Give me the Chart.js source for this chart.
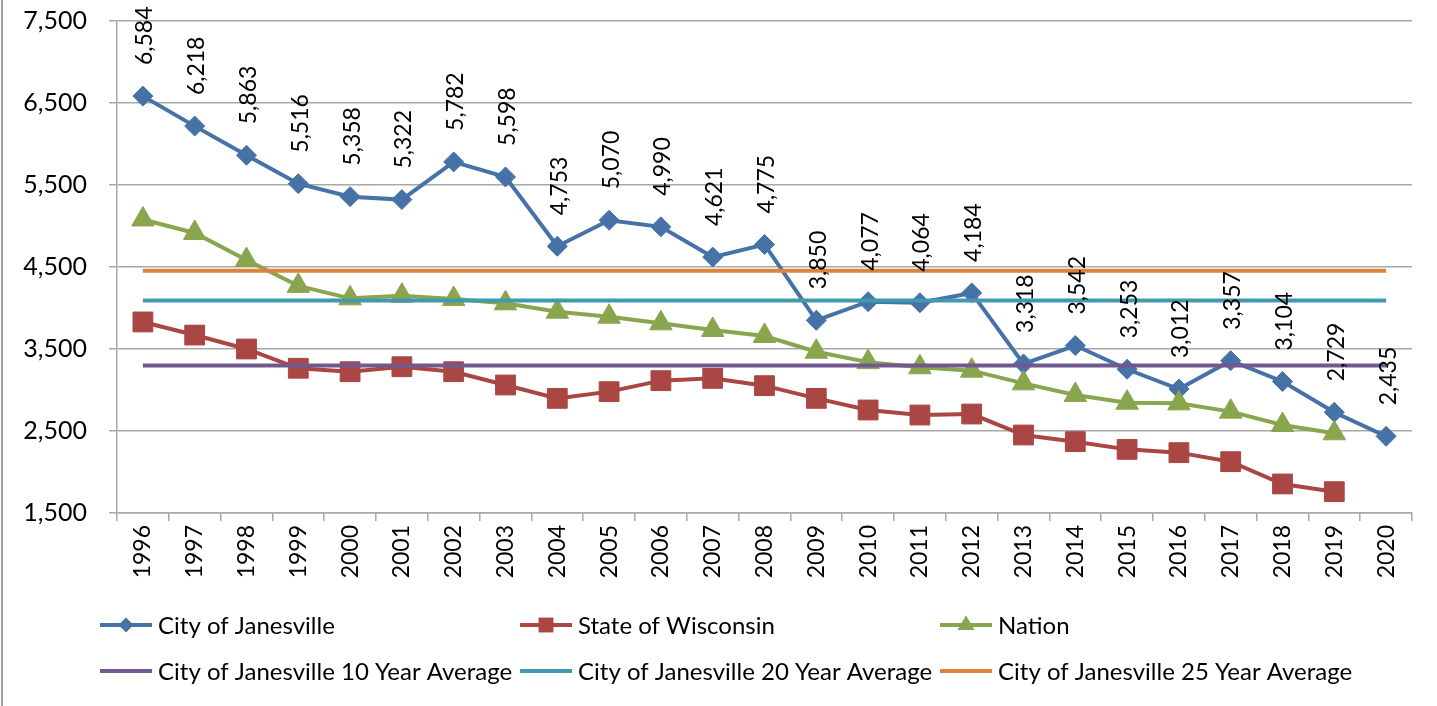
<!DOCTYPE html>
<html>
<head>
<meta charset="utf-8">
<script src="https://cdn.jsdelivr.net/npm/chart.js@4.4.1/dist/chart.umd.min.js"></script>
<style>
  html, body { margin: 0; padding: 0; background: #fff; }
  #wrap { position: relative; width: 1437px; height: 706px; }
  #edge { position: absolute; left: 1px; top: 0; width: 2px; height: 706px; background: #a0a0a0; }
</style>
</head>
<body>
<div id="wrap">
  <canvas id="chart" width="1437" height="706"></canvas>
  <div id="edge"></div>
</div>
<script>
const years = ["1996", "1997", "1998", "1999", "2000", "2001", "2002", "2003", "2004", "2005", "2006", "2007", "2008",
  "2009", "2010", "2011", "2012", "2013", "2014", "2015", "2016", "2017", "2018", "2019", "2020"];

const janesville = [6584, 6218, 5863, 5516, 5358, 5322, 5782, 5598, 4753, 5070, 4990, 4621, 4775,
  3850, 4077, 4064, 4184, 3318, 3542, 3253, 3012, 3357, 3104, 2729, 2435];
const wisconsin = [3830, 3670, 3500, 3265, 3223, 3284, 3223, 3061, 2898, 2980, 3114, 3142, 3053,
  2898, 2756, 2695, 2707, 2451, 2370, 2276, 2236, 2126, 1854, 1760, null];
const nation = [5080, 4915, 4585, 4270, 4118, 4150, 4110, 4057, 3955, 3894, 3813, 3732, 3659,
  3467, 3340, 3277, 3236, 3081, 2939, 2845, 2837, 2736, 2573, 2472, null];
const avg10 = [3300, 3300, 3300, 3300, 3300, 3300, 3300, 3300, 3300, 3300, 3300, 3300, 3300,
  3300, 3300, 3300, 3300, 3300, 3300, 3300, 3300, 3300, 3300, 3300, 3300];
const avg20 = [4092, 4092, 4092, 4092, 4092, 4092, 4092, 4092, 4092, 4092, 4092, 4092, 4092,
  4092, 4092, 4092, 4092, 4092, 4092, 4092, 4092, 4092, 4092, 4092, 4092];
const avg25 = [4455, 4455, 4455, 4455, 4455, 4455, 4455, 4455, 4455, 4455, 4455, 4455, 4455,
  4455, 4455, 4455, 4455, 4455, 4455, 4455, 4455, 4455, 4455, 4455, 4455];

const yTicks = [1500, 2500, 3500, 4500, 5500, 6500, 7500];

const FONT = "Lato, Carlito, Calibri, sans-serif";
const GRID = "#a8a8a8";
const fmt = (v) => Number(v).toLocaleString("en-US");

function series(label, data, color, style, radius, order) {
  return {
    label, data, order,
    borderColor: color, backgroundColor: color, borderWidth: 4,
    pointStyle: style, pointRadius: radius, pointHoverRadius: radius,
    pointBackgroundColor: color, pointBorderColor: color, pointBorderWidth: 1,
    tension: 0, spanGaps: false
  };
}

// value labels above the City of Janesville points, rotated like the original
const valueLabels = {
  id: "valueLabels",
  afterDatasetsDraw(chart) {
    const ctx = chart.ctx;
    const meta = chart.getDatasetMeta(0);
    ctx.save();
    ctx.font = `23px ${FONT}`;
    ctx.fillStyle = "#000";
    ctx.textAlign = "left";
    ctx.textBaseline = "middle";
    meta.data.forEach((pt, i) => {
      ctx.save();
      ctx.translate(pt.x + 2, pt.y - 31);
      ctx.rotate(-Math.PI / 2);
      ctx.fillText(fmt(janesville[i]), 0, 0);
      ctx.restore();
    });
    ctx.restore();
  }
};

function drawMarker(ctx, style, r, x, y) {
  ctx.beginPath();
  if (style === "rectRot") {
    ctx.moveTo(x, y - r); ctx.lineTo(x + r, y); ctx.lineTo(x, y + r); ctx.lineTo(x - r, y);
  } else if (style === "rect") {
    const s = r * Math.SQRT1_2;
    ctx.rect(x - s, y - s, 2 * s, 2 * s);
  } else if (style === "triangle") {
    ctx.moveTo(x, y - r);
    ctx.lineTo(x + r * Math.sin(2 * Math.PI / 3), y + r / 2);
    ctx.lineTo(x - r * Math.sin(2 * Math.PI / 3), y + r / 2);
  }
  ctx.closePath();
  ctx.fill();
}

// Excel-style grid legend: three columns, two rows
const gridLegend = {
  id: "gridLegend",
  afterDraw(chart) {
    const ctx = chart.ctx;
    const colX = [100, 520, 940];
    const rowY = [625, 671];
    ctx.save();
    ctx.font = `24px ${FONT}`;
    ctx.textBaseline = "middle";
    ctx.textAlign = "left";
    chart.data.datasets.forEach((ds, i) => {
      const x = colX[i % 3];
      const y = rowY[Math.floor(i / 3)];
      ctx.strokeStyle = ds.borderColor;
      ctx.fillStyle = ds.borderColor;
      ctx.lineWidth = 4;
      ctx.beginPath();
      ctx.moveTo(x, y);
      ctx.lineTo(x + 52, y);
      ctx.stroke();
      if (ds.pointRadius > 0) drawMarker(ctx, ds.pointStyle, ds.pointRadius * 0.75, x + 26, y);
      ctx.fillStyle = "#000";
      ctx.fillText(ds.label, x + 58, y + 1);
    });
    ctx.restore();
  }
};

new Chart(document.getElementById("chart"), {
  type: "line",
  data: {
    labels: years,
    datasets: [
      series("City of Janesville", janesville, "#4572A7", "rectRot", 10, 6),
      series("State of Wisconsin", wisconsin, "#AA4643", "rect", 14, 5),
      series("Nation", nation, "#89A54E", "triangle", 13, 4),
      series("City of Janesville 10 Year Average", avg10, "#71588F", "circle", 0, 3),
      series("City of Janesville 20 Year Average", avg20, "#4198AF", "circle", 0, 2),
      series("City of Janesville 25 Year Average", avg25, "#DB843D", "circle", 0, 1)
    ]
  },
  options: {
    responsive: false,
    animation: false,
    layout: { padding: { top: 21, right: 25, left: 0, bottom: 0 } },
    plugins: { legend: { display: false }, tooltip: { enabled: false } },
    scales: {
      x: {
        offset: true,
        grid: { display: true, drawOnChartArea: false, drawTicks: true, tickLength: 8, color: GRID, lineWidth: 1.5, offset: true },
        border: { display: true, color: GRID, width: 1.5 },
        ticks: { autoSkip: false, minRotation: 90, maxRotation: 90, padding: 4, color: "#000", font: { family: FONT, size: 23 } },
        afterFit: (scale) => { scale.height = 193; }
      },
      y: {
        min: 1500,
        max: 7500,
        afterBuildTicks: (scale) => { scale.ticks = yTicks.map((v) => ({ value: v })); },
        grid: { color: GRID, lineWidth: 1.5, tickLength: 8 },
        border: { display: true, color: GRID, width: 1.5 },
        ticks: { padding: 22, color: "#000", font: { family: FONT, size: 25 }, callback: (v) => fmt(v) },
        afterFit: (scale) => {
          scale.width = 117;
          scale.paddingTop = 0;
          scale.paddingBottom = 0;
        }
      }
    }
  },
  plugins: [valueLabels, gridLegend]
});
</script>
</body>
</html>
